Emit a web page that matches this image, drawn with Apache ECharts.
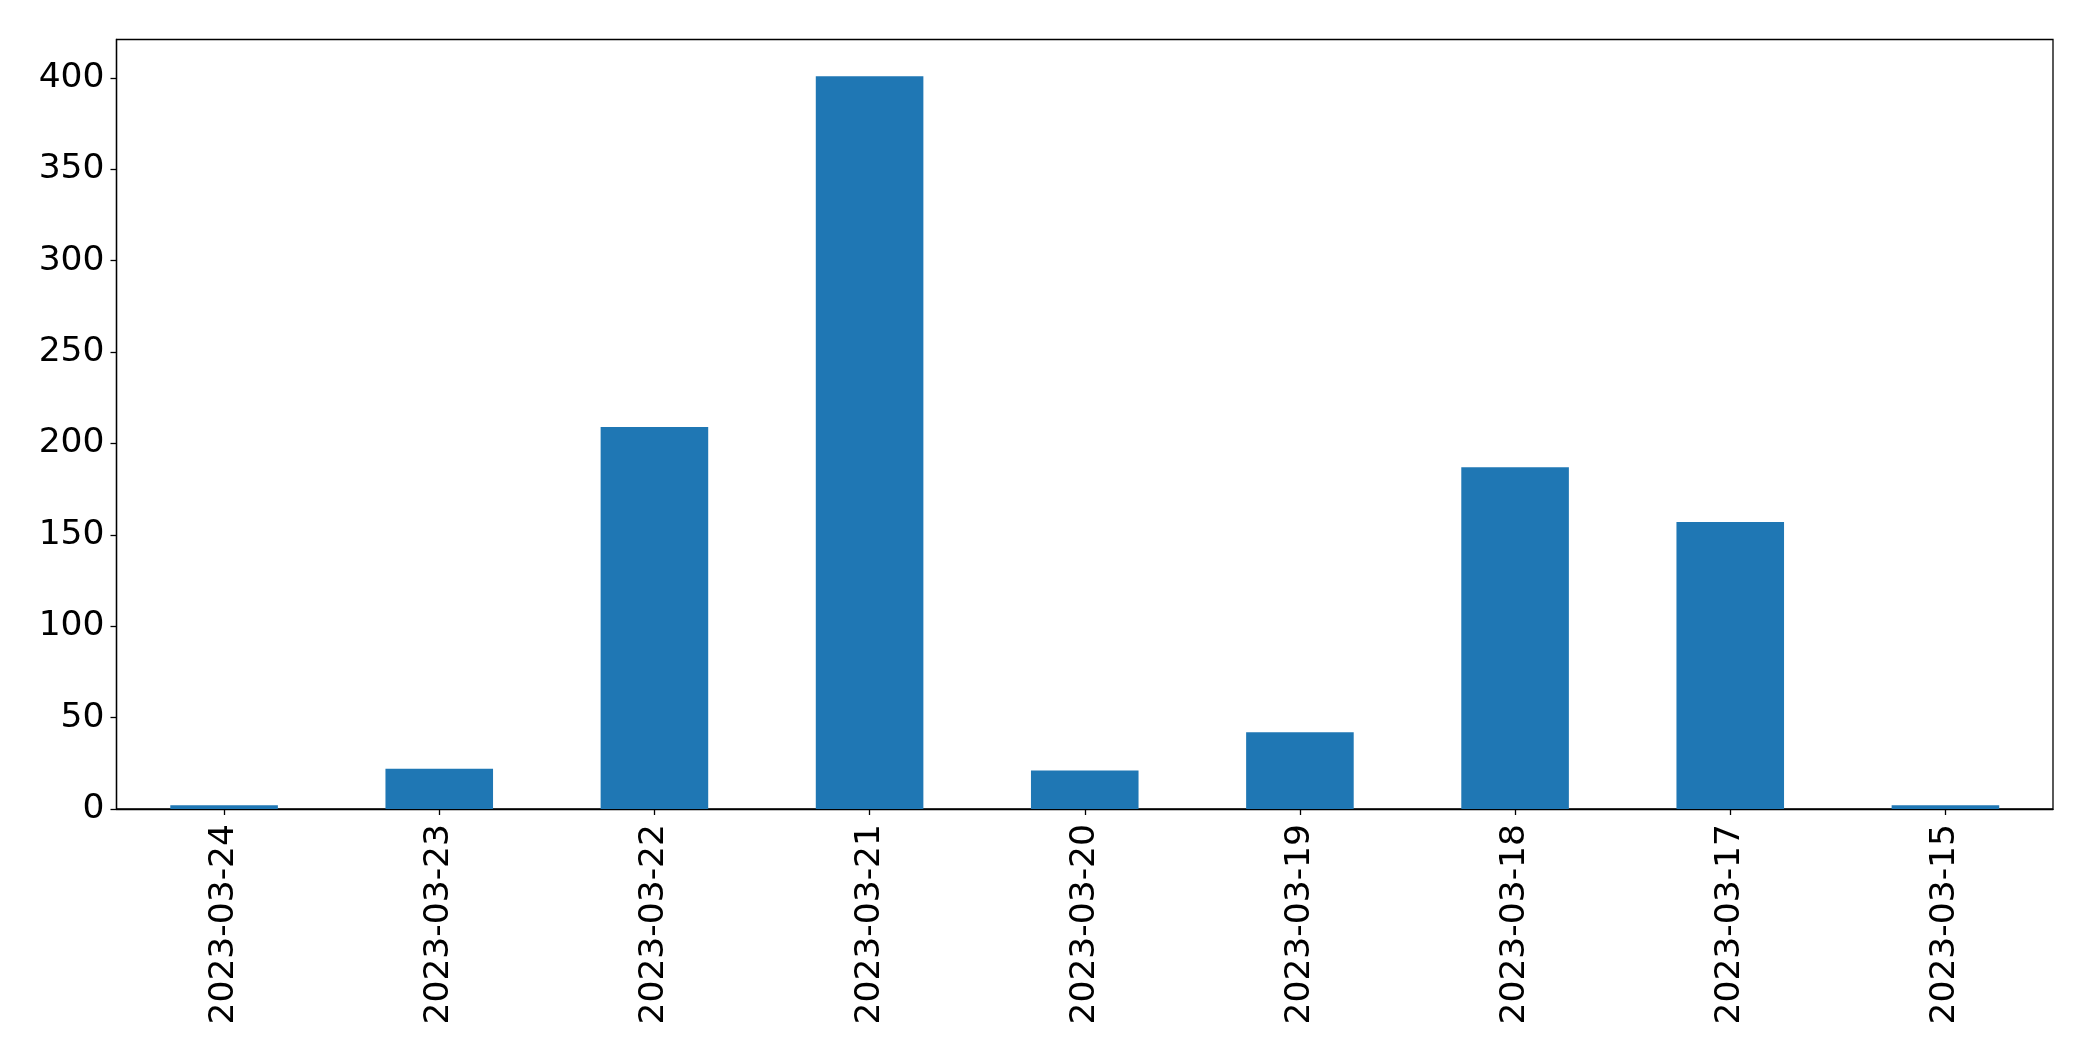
<!DOCTYPE html>
<html>
<head>
<meta charset="utf-8">
<script src="https://cdn.jsdelivr.net/npm/echarts@6/dist/echarts.min.js"></script>
<style>
html,body{margin:0;padding:0;background:#fff;}
#chart{width:2093px;height:1061px;}
</style>
</head>
<body>
<div id="chart"></div>
<script>
const categories = ['2023-03-24','2023-03-23','2023-03-22','2023-03-21','2023-03-20','2023-03-19','2023-03-18','2023-03-17','2023-03-15'];
const values = [2, 22, 209, 401, 21, 42, 187, 157, 2];
const yTicks = [0, 50, 100, 150, 200, 250, 300, 350, 400];

const yMax = Math.max.apply(null, values) * 1.05;
const chart = echarts.init(document.getElementById('chart'), null, {renderer: 'canvas'});
const font = 'DejaVu Sans';
chart.setOption({
  animation: false,
  backgroundColor: '#ffffff',
  grid: {
    left: 116.5, right: 40, top: 39.5, bottom: 252,
    show: true, borderColor: '#000', borderWidth: 1.3, backgroundColor: 'transparent'
  },
  xAxis: {
    type: 'category',
    data: categories,
    boundaryGap: true,
    axisLine: {show: true, lineStyle: {color: '#000', width: 1.3}},
    axisTick: {show: true, alignWithLabel: true, length: 6, lineStyle: {color: '#000', width: 1.3}},
    axisLabel: {rotate: 90, margin: 15, color: '#000', fontFamily: font, fontSize: 34.5, interval: 0},
    splitLine: {show: false}
  },
  yAxis: {
    type: 'value',
    min: 0,
    max: yMax,
    interval: 50,
    axisLine: {show: true, lineStyle: {color: '#000', width: 1.3}},
    axisTick: {show: true, length: 6, lineStyle: {color: '#000', width: 1.3}},
    axisLabel: {
      margin: 12, color: '#000', fontFamily: font, fontSize: 34.5,
      showMaxLabel: false,
      formatter: function (v) { return yTicks.indexOf(v) >= 0 ? String(v) : ''; }
    },
    splitLine: {show: false}
  },
  series: [{
    type: 'bar',
    data: values,
    barWidth: '50%',
    itemStyle: {color: '#1f77b4'}
  }]
});
</script>
</body>
</html>
